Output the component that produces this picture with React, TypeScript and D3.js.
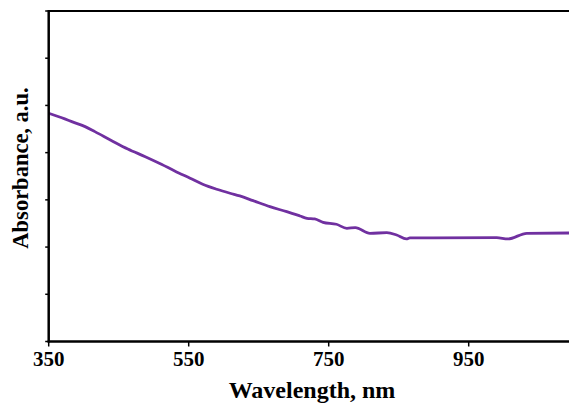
import React, { useEffect, useRef } from "react";
import * as d3 from "d3";

const wavelengths = [350, 373, 383, 402, 416, 440, 463, 488, 511, 530, 552, 570, 590, 609, 623, 642, 666, 690, 709, 719, 730, 742, 761, 776, 788, 809, 833, 847, 861, 866, 990, 1006, 1033, 1100];
const absorbance = [4.835, 4.714, 4.657, 4.551, 4.445, 4.254, 4.078, 3.915, 3.754, 3.612, 3.458, 3.331, 3.225, 3.14, 3.083, 2.983, 2.856, 2.75, 2.659, 2.61, 2.595, 2.525, 2.483, 2.398, 2.411, 2.292, 2.305, 2.256, 2.172, 2.193, 2.199, 2.172, 2.292, 2.299];
const xTicks = [350, 550, 750, 950];
const yTicks = [0, 1, 2, 3, 4, 5, 6, 7];

export default function App() {
  const ref = useRef<SVGSVGElement>(null);
  useEffect(() => {
    const svg = d3.select(ref.current);
    svg.selectAll("*").remove();
    const left = 48.7, top = 11, bottom = 341.5;
    const x = d3.scaleLinear().domain([350, 550]).range([left, left + 140]);
    const y = d3.scaleLinear().domain([0, 7]).range([bottom, top]);
    const font = "'Liberation Serif', 'Times New Roman', serif";

    // top border
    svg.append("line").attr("x1", left).attr("x2", 569).attr("y1", top).attr("y2", top)
      .attr("stroke", "#000").attr("stroke-width", 2);

    // data line
    const data = wavelengths.map((w, i) => [w, absorbance[i]] as [number, number]);
    svg.append("path").datum(data)
      .attr("d", d3.line<[number, number]>().x(d => x(d[0])).y(d => y(d[1])).curve(d3.curveMonotoneX))
      .attr("fill", "none").attr("stroke", "#7030A0").attr("stroke-width", 2.8);

    // y axis
    svg.append("line").attr("x1", left).attr("x2", left).attr("y1", top - 1).attr("y2", bottom + 1)
      .attr("stroke", "#000").attr("stroke-width", 2.5);
    svg.selectAll(".yt").data(yTicks).enter().append("line")
      .attr("x1", left - 3.5).attr("x2", left).attr("y1", d => y(d)).attr("y2", d => y(d))
      .attr("stroke", "#000").attr("stroke-width", 1.5);

    // x axis
    svg.append("line").attr("x1", left - 1).attr("x2", 569).attr("y1", bottom).attr("y2", bottom)
      .attr("stroke", "#000").attr("stroke-width", 2.5);
    svg.selectAll(".xt").data(xTicks).enter().append("line")
      .attr("x1", d => x(d)).attr("x2", d => x(d)).attr("y1", bottom).attr("y2", bottom + 5)
      .attr("stroke", "#000").attr("stroke-width", 1.5);
    svg.selectAll(".xl").data(xTicks).enter().append("text")
      .attr("x", d => x(d)).attr("y", 366).attr("text-anchor", "middle")
      .attr("font-family", font).attr("font-weight", "bold").attr("font-size", 21)
      .text(d => String(d));

    svg.append("text").attr("x", 312).attr("y", 398).attr("text-anchor", "middle")
      .attr("font-family", font).attr("font-weight", "bold").attr("font-size", 24)
      .text("Wavelength, nm");

    svg.append("text").attr("transform", "translate(28,168) rotate(-90)").attr("text-anchor", "middle")
      .attr("font-family", font).attr("font-weight", "bold").attr("font-size", 22.5)
      .text("Absorbance, a.u.");
  }, []);
  return (
    <svg ref={ref} width={569} height={407}
      style={{ position: "absolute", left: 0, top: 0, background: "#fff" }} />
  );
}
